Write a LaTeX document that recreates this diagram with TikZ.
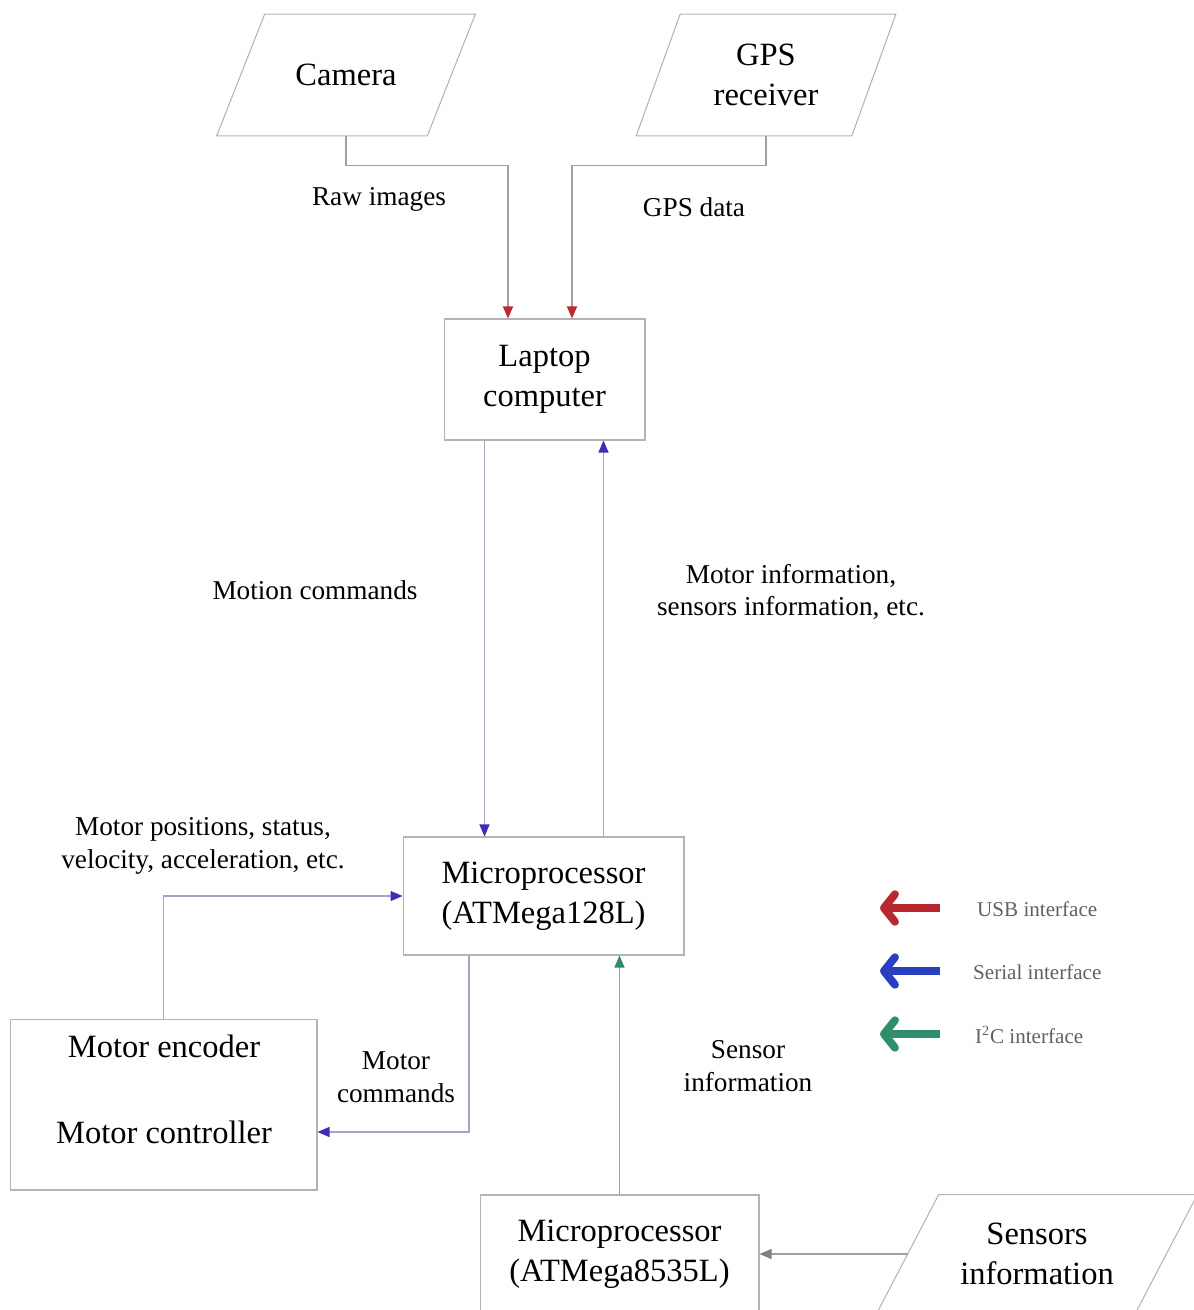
\documentclass[tikz,border=0pt]{standalone}
\usepackage{fontspec}
\setmainfont{Liberation Serif}
\usetikzlibrary{arrows.meta,calc}
\definecolor{usbred}{HTML}{C0282D}
\definecolor{serblue}{HTML}{3B2DB5}
\definecolor{i2cgreen}{HTML}{2E8B66}
\definecolor{legred}{HTML}{B8282E}
\definecolor{legblue}{HTML}{2A3FC0}
\definecolor{leggreen}{HTML}{2E8F6A}
\definecolor{boxgray}{HTML}{B4B4B4}
\definecolor{linegray}{HTML}{A0A0A0}
\definecolor{lineblue}{HTML}{A4A4C4}
\definecolor{legtext}{HTML}{606060}
\begin{document}
\begin{tikzpicture}[x=0.02cm,y=-0.02cm,
  boxtext/.style={font=\fontsize{18.5}{22.7}\selectfont, align=center},
  lbl/.style={font=\fontsize{15.5}{18.7}\selectfont, align=center},
  frame/.style={draw=boxgray, line width=0.6pt, inner sep=0pt},
  ghost/.style={inner sep=0pt},
  conn/.style={draw=linegray, line width=0.6pt},
  sconn/.style={draw=lineblue, line width=0.6pt},
  usbtip/.style={-{Triangle[length=0.24cm,width=0.2cm,color=usbred]}},
  sertip/.style={-{Triangle[length=0.24cm,width=0.2cm,color=serblue]}},
  i2ctip/.style={-{Triangle[length=0.24cm,width=0.2cm,color=i2cgreen]}},
  graytip/.style={-{Triangle[length=0.24cm,width=0.2cm,color=gray]}},
  legarrow/.style={line width=4.5pt, -{Straight Barb[length=0.22cm,width=0.55cm,round]}},
  legtxt/.style={anchor=west, text=legtext, font=\fontsize{12}{14}\selectfont},
  ]
\useasboundingbox (0,0) rectangle (1193,1310);

% input parallelograms (bounding rectangles, undrawn)
\node[ghost, boxtext, minimum width=4.2cm, minimum height=2.42cm] (cam) at (346,75) {Camera};
\node[ghost, boxtext, minimum width=4.3cm, minimum height=2.42cm] (gps) at (766,75) {GPS\\receiver};
\node[ghost, boxtext, minimum width=5.16cm, minimum height=2.36cm] (sen) at (1037,1254) {Sensors\\information};

\draw[frame] ([xshift=0.48cm]cam.north west) -- ([xshift=0.48cm]cam.north east)
  -- ([xshift=-0.48cm]cam.south east) -- ([xshift=-0.48cm]cam.south west) -- cycle;
\draw[frame] ([xshift=0.44cm]gps.north west) -- ([xshift=0.44cm]gps.north east)
  -- ([xshift=-0.44cm]gps.south east) -- ([xshift=-0.44cm]gps.south west) -- cycle;
\draw[frame] ([xshift=0.62cm]sen.north west) -- ([xshift=0.62cm]sen.north east)
  -- ([xshift=-0.62cm]sen.south east) -- ([xshift=-0.62cm]sen.south west) -- cycle;

% process boxes
\node[frame, boxtext, minimum width=4.02cm, minimum height=2.42cm] (lap) at (544.5,379.5) {Laptop\\computer};
\node[frame, boxtext, minimum width=5.62cm, minimum height=2.36cm] (mc1) at (543.5,896) {Microprocessor\\(ATMega128L)};
\node[frame, minimum width=6.14cm, minimum height=3.42cm] (mot) at (163.5,1104.5) {};
\node[boxtext] (menc) at (164,1046) {Motor encoder};
\node[boxtext] (mctl) at (164,1132) {Motor controller};
\node[frame, boxtext, minimum width=5.58cm, minimum height=2.36cm] (mc2) at (619.5,1254) {Microprocessor\\(ATMega8535L)};

% connectors
\draw[conn, usbtip] (cam.south) -- ++(0,30) -| ([xshift=-0.73cm]lap.north);
\draw[conn, usbtip] (gps.south) -- ++(0,30) -| ([xshift=0.55cm]lap.north);
\draw[sconn, sertip] ([xshift=-1.2cm]lap.south) -- ([xshift=-1.2cm]lap.south |- mc1.north);
\draw[sconn, sertip] ([xshift=1.2cm]mc1.north) -- ([xshift=1.2cm]mc1.north |- lap.south);
\draw[sconn, sertip] (mot.north) |- (mc1.west);
\draw[sconn, sertip] ([xshift=-1.49cm]mc1.south) |- (mctl -| mot.east);
\draw[conn, i2ctip] (mc2.north) -- (mc2.north |- mc1.south);
\draw[conn, graytip] (sen.west) -- (mc2.east);

% connector labels
\node[lbl] (lraw) at (379,199) {Raw images};
\node[lbl] (lgps) at (694,207) {GPS data};
\node[lbl] (lmot) at (315,590) {Motion commands};
\node[lbl] (linf) at (791,592) {Motor information,\\sensors information, etc.};
\node[lbl] (lpos) at (203,846) {Motor positions, status,\\velocity, acceleration, etc.};
\node[lbl] (lmc) at (396,1077) {Motor\\commands};
\node[lbl] (lsi) at (748,1066) {Sensor\\information};

% legend
\node[legtxt] (tusb) at (971,909) {USB interface};
\node[legtxt] (tser) at (967,972) {Serial interface};
\node[legtxt] (ti2c) at (969,1035) {I\textsuperscript{2}C interface};
\coordinate (ua) at (940,908); \coordinate (ub) at (880,908);
\coordinate (sa) at (940,971); \coordinate (sb) at (880,971);
\coordinate (ga) at (940,1034); \coordinate (gb) at (880,1034);
\draw[legarrow, legred] (ua) -- (ub);
\draw[legarrow, legblue] (sa) -- (sb);
\draw[legarrow, leggreen] (ga) -- (gb);
\end{tikzpicture}
\end{document}
